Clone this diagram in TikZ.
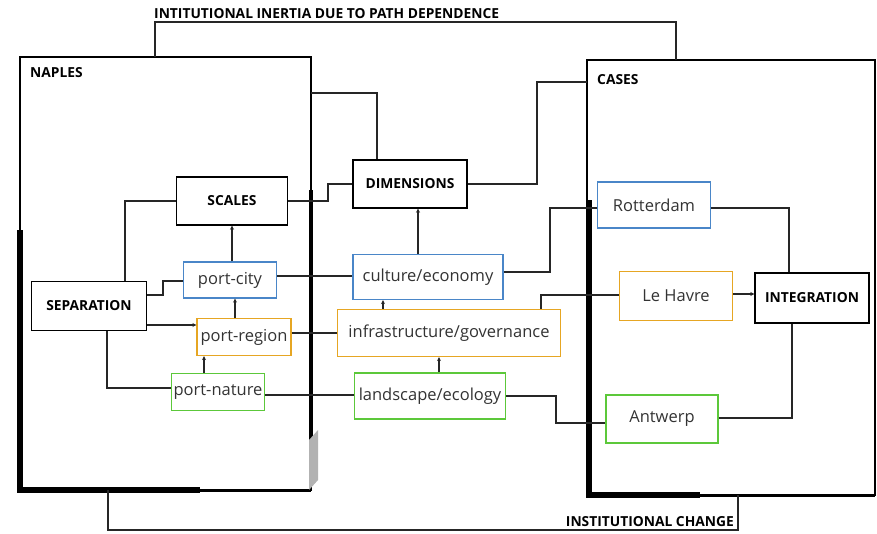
\documentclass[tikz,border=0pt]{standalone}
\usepackage{fontspec}
\setmainfont{Open Sans}
\usetikzlibrary{arrows.meta}
\definecolor{cblue}{HTML}{4A86C8}
\definecolor{corange}{HTML}{E6A623}
\definecolor{cgreen}{HTML}{5CC83A}
\definecolor{ctext}{HTML}{333333}
\tikzset{
  base/.style={draw, line width=1.1pt, inner sep=0pt, align=center},
  blackbox/.style={base, draw=black, line width=1.4pt, font=\fontsize{13.8}{15}\selectfont\bfseries, text=black},
  bluebox/.style={base, draw=cblue, font=\fontsize{16.5}{18}\selectfont, text=ctext},
  orangebox/.style={base, draw=corange, font=\fontsize{16.5}{18}\selectfont, text=ctext},
  greenbox/.style={base, draw=cgreen, font=\fontsize{16.5}{18}\selectfont, text=ctext},
  lbl/.style={font=\fontsize{13.8}{15}\selectfont\bfseries, text=black, inner sep=0pt},
  conn/.style={draw=black!85, line width=1.1pt},
  arr/.style={conn, -{Stealth[length=4pt,width=4pt]}},
}
\begin{document}
\begin{tikzpicture}[x=1pt,y=-1pt]
\useasboundingbox (0,0) rectangle (877,533);
% big frames
\draw[line width=1.4pt] (20,57) rectangle (311,490);
\draw[line width=5.5pt] (20,230) -- (20,490) -- (200,490);
\draw[line width=3pt] (20,490) -- (311,490);
\draw[line width=3.5pt] (311,190) -- (311,440);
\fill[gray!60] (309,440) -- (318,430) -- (318,480) -- (309,490) -- cycle;
\draw[line width=1.4pt] (587,60) rectangle (875,495);
\draw[line width=5.5pt] (589,200) -- (589,495) -- (700,495);
\draw[line width=3pt] (589,495) -- (875,495);
\node[lbl, anchor=west] (naples) at (30,73) {NAPLES};
\node[lbl, anchor=west] (cases) at (597,80) {CASES};
% top and bottom feedback lines
\node[lbl, anchor=south west] (inertia) at (154,19) {INTITUTIONAL INERTIA DUE TO PATH DEPENDENCE};
\node[lbl, anchor=east] (change) at (734,522) {INSTITUTIONAL CHANGE};
\coordinate (topL) at (155,57);
\coordinate (topR) at (676,60);
\draw[conn] (topL) -- (155,22) -- (676,22) -- (topR);
\coordinate (botL) at (108,490);
\coordinate (botR) at (738,495);
\draw[conn] (botL) -- (108,530) -- (738,530) -- (botR);
% nodes
\node[blackbox, minimum width=111pt, minimum height=48pt] (scales) at (232,201) {SCALES};
\node[blackbox, minimum width=114pt, minimum height=48pt] (dims) at (410,184) {DIMENSIONS};
\node[blackbox, minimum width=115pt, minimum height=49pt] (sep) at (89,306) {SEPARATION};
\node[blackbox, minimum width=114pt, minimum height=50pt] (integ) at (812,298) {INTEGRATION};
\node[bluebox, minimum width=93pt, minimum height=36pt] (pcity) at (230,280) {port-city};
\node[orangebox, minimum width=94pt, minimum height=37pt] (preg) at (244,337) {port-region};
\node[greenbox, minimum width=93pt, minimum height=37pt] (pnat) at (218,392) {port-nature};
\node[bluebox, minimum width=150pt, minimum height=45pt] (cult) at (428,277) {culture/economy};
\node[orangebox, minimum width=223pt, minimum height=47pt] (infra) at (449,333) {infrastructure/governance};
\node[greenbox, minimum width=151pt, minimum height=46pt] (land) at (430,396) {landscape/ecology};
\node[bluebox, minimum width=113pt, minimum height=46pt] (rott) at (654,205) {Rotterdam};
\node[orangebox, minimum width=113pt, minimum height=49pt] (havre) at (676,296) {Le Havre};
\node[greenbox, minimum width=112pt, minimum height=48pt] (antw) at (662,419) {Antwerp};
% connectors
\coordinate (nRside) at (311,93);
\draw[conn] (nRside) -- (377,93) -- (dims.north -| 377,0);
\draw[conn] (sep.north -| 125,0) -- (125,201) -- (scales.west);
\draw[conn] (scales.east) -- (328,201) -- (328,184) -- (dims.west |- 0,184);
\draw[arr] (pcity.north -| 232,0) -- (scales.south -| 232,0);
\draw[arr] (cult.north -| 418,0) -- (dims.south -| 418,0);
\draw[conn] (dims.east) -- (537,184) -- (537,82) -- (587,82);
\draw[conn] (sep.east |- 0,295) -- (163,295) -- (163,281) -- (pcity.west |- 0,281);
\draw[arr] (sep.east |- 0,325) -- (preg.west |- 0,325);
\draw[conn] (sep.south -| 107,0) -- (107,388) -- (pnat.west |- 0,388);
\draw[arr] (preg.north -| 235,0) -- (pcity.south -| 235,0);
\draw[arr] (pnat.north -| 204,0) -- (preg.south -| 204,0);
\draw[conn] (pcity.east |- 0,276) -- (cult.west |- 0,276);
\draw[conn] (preg.east |- 0,333) -- (infra.west |- 0,333);
\draw[conn] (pnat.east |- 0,395) -- (land.west |- 0,395);
\draw[arr] (infra.north -| 383,0) -- (cult.south -| 383,0);
\draw[arr] (land.north -| 439,0) -- (infra.south -| 439,0);
\draw[conn] (cult.east |- 0,272) -- (550,272) -- (550,208) -- (rott.west |- 0,208);
\draw[conn] (infra.north -| 541,0) -- (541,295) -- (havre.west |- 0,295);
\draw[conn] (land.east |- 0,396) -- (556,396) -- (556,423) -- (antw.west |- 0,423);
\draw[conn] (rott.east |- 0,208) -- (789,208) -- (integ.north -| 789,0);
\draw[arr] (havre.east |- 0,294) -- (integ.west |- 0,294);
\draw[conn] (antw.east |- 0,418) -- (792,418) -- (integ.south -| 792,0);
\end{tikzpicture}
\end{document}
